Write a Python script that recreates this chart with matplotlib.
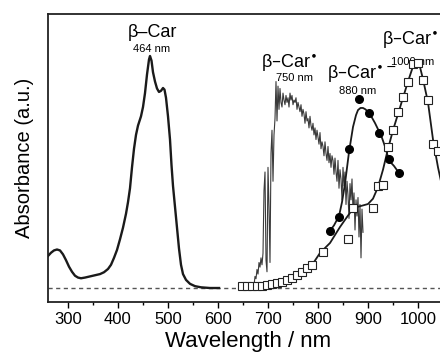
import matplotlib
matplotlib.use("Agg")
import matplotlib.pyplot as plt
from matplotlib.ticker import MultipleLocator

plt.rcParams['font.family'] = ['Liberation Sans', 'DejaVu Sans']

# beta-Car ground state absorption
car_nm = [260, 266, 272, 278, 284, 290, 296, 302, 308, 314, 320, 326, 334, 344, 354,
          364, 372, 380, 386, 392, 398, 404, 410, 416, 420, 424, 428, 432, 436, 440,
          446, 450, 454, 458, 462, 464, 467, 470, 474, 478, 482, 486, 490, 493, 496,
          500, 504, 507, 510, 514, 518, 522, 526, 530, 536, 544, 554, 566, 584, 602]
car_abs = [0.138, 0.152, 0.162, 0.166, 0.162, 0.145, 0.12, 0.092, 0.07, 0.053, 0.045,
           0.042, 0.045, 0.05, 0.055, 0.06, 0.068, 0.082, 0.1, 0.13, 0.164, 0.21, 0.26,
           0.32, 0.37, 0.43, 0.52, 0.6, 0.66, 0.7, 0.74, 0.78, 0.84, 0.92, 0.985, 1.0,
           0.98, 0.93, 0.89, 0.86, 0.845, 0.85, 0.862, 0.855, 0.82, 0.74, 0.64, 0.53,
           0.44, 0.35, 0.26, 0.17, 0.1, 0.06, 0.035, 0.018, 0.008, 0.003, 0.0, 0.0]

# beta-Car* (noisy transient spectrum)
star_nm = list(range(668, 892, 2))
star_abs = [0.00, 0.02, 0.01, 0.05, 0.04, 0.08, 0.06, 0.11, 0.09, 0.13, 0.10, 0.15,
            0.42, 0.50, 0.12, 0.07, 0.52, 0.35, 0.11, 0.58, 0.68, 0.46, 0.66, 0.73,
            0.89, 0.72, 0.87, 0.77, 0.86, 0.80, 0.78, 0.84, 0.81, 0.79, 0.83, 0.80,
            0.82, 0.78, 0.84, 0.81, 0.83, 0.79, 0.81, 0.80, 0.82, 0.77, 0.80, 0.78,
            0.76, 0.79, 0.74, 0.77, 0.75, 0.71, 0.76, 0.72, 0.73, 0.69, 0.74, 0.70,
            0.68, 0.71, 0.66, 0.69, 0.64, 0.68, 0.65, 0.62, 0.67, 0.60, 0.63, 0.61,
            0.57, 0.63, 0.58, 0.55, 0.61, 0.54, 0.58, 0.52, 0.57, 0.55, 0.49, 0.56,
            0.50, 0.46, 0.55, 0.43, 0.51, 0.47, 0.38, 0.52, 0.44, 0.50, 0.36, 0.46,
            0.40, 0.30, 0.45, 0.38, 0.47, 0.33, 0.41, 0.25, 0.38, 0.31, 0.39, 0.22,
            0.36, 0.13, 0.34, 0.24]

# beta-Car radical anion: points and fitted curve
anion_nm = [824, 842, 862, 882, 902, 922, 942, 962]
anion_abs = [0.246, 0.306, 0.599, 0.815, 0.754, 0.668, 0.556, 0.496]
anion_fit_nm = [822, 832, 842, 848, 854, 862, 870, 876, 880, 885, 890, 895, 900, 907,
                914, 921, 928, 934, 940, 946, 952, 962]
anion_fit_abs = [0.241, 0.27, 0.31, 0.37, 0.45, 0.586, 0.694, 0.745, 0.767, 0.776,
                 0.776, 0.77, 0.759, 0.738, 0.711, 0.68, 0.647, 0.61, 0.565, 0.54,
                 0.526, 0.496]

# beta-Car radical cation: points and fitted curve
cation_nm = [648, 658, 668, 678, 688, 698, 708, 718, 728, 738, 748, 758, 768, 778, 788,
             810, 860, 870, 910, 920, 930, 940, 950, 960, 970, 980, 990, 1000, 1010,
             1020, 1030, 1040]
cation_abs = [0.008, 0.009, 0.009, 0.008, 0.007, 0.013, 0.016, 0.02, 0.027, 0.034,
              0.044, 0.056, 0.07, 0.085, 0.099, 0.157, 0.21, 0.345, 0.345, 0.44,
              0.444, 0.608, 0.68, 0.757, 0.823, 0.888, 0.965, 0.97, 0.897, 0.81,
              0.62, 0.59]
cation_fit_nm = [648, 668, 688, 708, 728, 748, 768, 788, 804, 824, 844, 856, 866, 878,
                 890, 900, 910, 920, 930, 940, 950, 960, 970, 980, 990, 996, 1002,
                 1010, 1020, 1030, 1040, 1050]
cation_fit_abs = [0.008, 0.009, 0.008, 0.016, 0.027, 0.044, 0.07, 0.099, 0.151, 0.194,
                  0.263, 0.3, 0.33, 0.349, 0.356, 0.362, 0.385, 0.435, 0.51, 0.6,
                  0.68, 0.75, 0.82, 0.89, 0.955, 0.98, 0.97, 0.9, 0.8, 0.64, 0.52,
                  0.42]

xticks = [300, 400, 500, 600, 700, 800, 900, 1000]

fig = plt.figure(figsize=(4.4, 3.61), dpi=100)
ax = fig.add_axes([48/440, 59/361, 400/440, 288/361])

dark = '#1a1a1a'
ax.axhline(0, color='#555555', lw=1.0, ls=(0, (3, 2.5)), zorder=1)
ax.plot(car_nm, car_abs, color=dark, lw=1.7, zorder=3)
ax.plot(star_nm, star_abs, color='#3a3a3a', lw=0.8, zorder=2)
ax.plot(anion_fit_nm, anion_fit_abs, color=dark, lw=1.3, zorder=3)
ax.plot(anion_nm, anion_abs, 'o', color='black', ms=5.5, zorder=4)
ax.plot(cation_fit_nm, cation_fit_abs, color=dark, lw=1.3, zorder=3)
ax.plot(cation_nm, cation_abs, 's', mfc='white', mec='#222222', mew=0.8, ms=5.5,
        zorder=4)

ax.set_xlim(260, 1060)
ax.set_ylim(-0.0603, 1.181)
ax.set_xticks(xticks)
ax.xaxis.set_minor_locator(MultipleLocator(50))
ax.tick_params(axis='x', which='major', direction='out', length=4, width=1,
               labelsize=12, pad=3)
ax.tick_params(axis='x', which='minor', direction='out', length=2.5, width=1)
ax.set_yticks([])
for s in ax.spines.values():
    s.set_linewidth(1.3)
    s.set_color('#222222')

ax.set_xlabel('Wavelength / nm', fontsize=16, labelpad=3)
ax.set_ylabel('Absorbance (a.u.)', fontsize=14.5, labelpad=10)

ax.text(468, 1.10, 'β–Car', fontsize=13, ha='center', va='center')
ax.text(468, 1.03, '464 nm', fontsize=8, ha='center', va='center')
ax.text(742, 0.97, r'β–Car$^{\bullet}$', fontsize=13, ha='center', va='center')
ax.text(752, 0.905, '750 nm', fontsize=8, ha='center', va='center')
ax.text(888, 0.922, r'β–Car$^{\bullet-}$', fontsize=13, ha='center', va='center')
ax.text(880, 0.850, '880 nm', fontsize=8, ha='center', va='center')
ax.text(928, 1.07, r'β–Car$^{\bullet+}$', fontsize=13, ha='left', va='center')
ax.text(990, 0.974, '1000 nm', fontsize=8, ha='center', va='center')

fig.savefig('out.png', dpi=100)
